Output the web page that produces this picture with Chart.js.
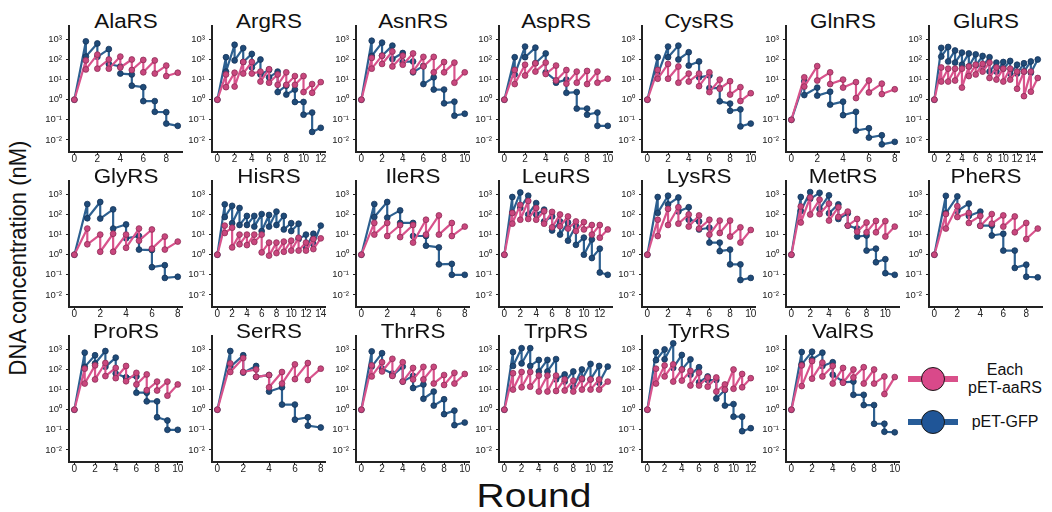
<!DOCTYPE html>
<html>
<head>
<meta charset="utf-8">
<script src="https://cdn.jsdelivr.net/npm/chart.js@4.4.1/dist/chart.umd.min.js"></script>
<style>
  body { margin: 0; background: #fff; width: 1052px; height: 512px; position: relative; overflow: hidden;
         font-family: 'Liberation Sans', Arial, sans-serif; color: #111; }
  .panel { position: absolute; }
  .ttl { position: absolute; width: 114px; text-align: center; font-size: 20px; line-height: 20px; transform: scaleX(1.12); }
  .ylab { position: absolute; left: -132px; top: 247px; width: 300px; text-align: center; font-size: 22px; line-height: 22px;
          transform: rotate(-90deg) scaleY(1.12); }
  .xlab { position: absolute; left: 434px; top: 479px; width: 200px; text-align: center; font-size: 33px; line-height: 33px;
          transform: scaleX(1.18); }
  .lg-bar { position: absolute; left: 908px; width: 50px; height: 6px; }
  .lg-dot { position: absolute; left: 921px; width: 24px; height: 24px; box-sizing: border-box; border: 1.5px solid #1a1a1a; border-radius: 50%; }
  .lg-txt { position: absolute; left: 958px; width: 94px; text-align: center; font-size: 16px; line-height: 18px; }
</style>
</head>
<body>
<div class="ylab">DNA concentration (nM)</div>
<div class="xlab">Round</div>

<div class="lg-bar" style="top:376px;background:#d9508a"></div>
<div class="lg-dot" style="top:367px;background:#d9498a"></div>
<div class="lg-txt" style="top:361px">Each<br>pET-aaRS</div>
<div class="lg-bar" style="top:419px;background:#275c98"></div>
<div class="lg-dot" style="top:410px;background:#1f5597"></div>
<div class="lg-txt" style="top:413px">pET-GFP</div>

<script>
// panels, left to right, top to bottom
const panelNames = ['AlaRS', 'ArgRS', 'AsnRS', 'AspRS', 'CysRS', 'GlnRS', 'GluRS',
                    'GlyRS', 'HisRS', 'IleRS', 'LeuRS', 'LysRS', 'MetRS', 'PheRS',
                    'ProRS', 'SerRS', 'ThrRS', 'TrpRS', 'TyrRS', 'ValRS'];

// concentration at round 0 (nM)
const startConc = [1, 1, 1, 1, 1, 0.1, 1,
                   1, 1, 1, 1, 1, 1, 1,
                   1, 1, 1, 1, 1, 1];

// pET-aaRS: after amplification, rounds 1..N
const aaRSPeak = [
  [90, 175, 100, 140, 100, 95, 90, 50, 22],                          // AlaRS
  [18, 22, 75, 75, 25, 33, 18, 23, 15, 15, 6, 7.5],                  // ArgRS
  [120, 155, 250, 155, 200, 135, 135, 75, 70, 23],                   // AsnRS
  [30, 55, 65, 70, 50, 30, 25, 27, 25, 11],                          // AspRS
  [30, 60, 45, 20, 20, 23, 10, 8.3, 4.2, 2.1],                       // CysRS
  [13, 47, 23, 10, 7.5, 9, 6.3, 3.3],                                // GlnRS
  [40, 35, 35, 35, 45, 55, 60, 70, 40, 35, 35, 25, 25, 25, 12],      // GluRS
  [20, 10, 11, 10, 20, 18, 8, 4.5],                                  // GlyRS
  [28, 22, 10, 10, 10, 10, 4, 4, 4.5, 5, 7, 4, 6, 6.5],              // HisRS
  [38, 38, 30, 30, 55, 90, 38, 25],                                  // IleRS
  [120, 300, 470, 210, 145, 135, 100, 80, 45, 42, 30, 30, 18],       // LeuRS
  [55, 190, 230, 100, 90, 55, 50, 50, 23, 17],                       // LysRS
  [250, 700, 550, 350, 230, 140, 60, 40, 48, 47, 25],                // MetRS
  [105, 260, 120, 85, 105, 90, 80, 38, 20],                          // PheRS
  [110, 160, 210, 120, 150, 68, 57, 25, 25, 18],                     // ProRS
  [200, 370, 100, 53, 75, 180, 210, 110],                            // SerRS
  [160, 230, 340, 230, 120, 135, 135, 53, 68, 60],                   // ThrRS
  [65, 75, 75, 50, 50, 50, 32, 28, 35, 32, 32, 25],                  // TrpRS
  [110, 160, 180, 100, 85, 70, 40, 40, 18, 100, 60, 37],             // TyrRS
  [160, 260, 220, 150, 120, 100, 130, 100, 45, 42]                   // ValRS
];
// pET-aaRS: after dilution, rounds 1..N-1
const aaRSDil = [
  [32, 35, 35, 40, 30, 23, 20, 15],
  [4.2, 4.5, 20, 20, 8, 7, 5.5, 5.5, 5.5, 2.4, 2.2],
  [35, 60, 45, 55, 25, 45, 23, 23, 7],
  [6, 16, 25, 19, 9, 6.3, 7, 6, 7],
  [11, 11, 7, 8, 4.7, 2.4, 3.5, 1.8, 0.86],
  [4.5, 9, 6, 4, 1.2, 2.3, 1.9],
  [8, 8, 9, 4, 15, 18, 25, 12, 10, 8, 10, 3.5, 1.5, 2.5],
  [3.3, 1.4, 1.4, 2.2, 5, 2, 1.8],
  [12, 2.3, 3.3, 3, 4.3, 1.3, 0.9, 1.2, 1.4, 1.6, 1.6, 1.6, 1.9],
  [10, 8.5, 7.5, 4, 10, 10, 8.5],
  [35, 55, 60, 55, 35, 23, 26, 20, 15, 18, 10, 7],
  [8.5, 30, 35, 25, 20, 10, 12, 8, 4],
  [40, 100, 105, 50, 75, 28, 14, 13, 13, 8],
  [20, 75, 38, 27, 35, 25, 13, 6],
  [20, 32, 47, 37, 26, 18, 9.3, 9, 5],
  [75, 75, 43, 13, 20, 33, 30],
  [45, 80, 48, 25, 32, 32, 20, 17, 20],
  [10, 13, 14, 8, 8, 8.5, 9, 8, 10, 10, 10],
  [20, 45, 25, 28, 16, 16, 14, 8, 10, 11, 13],
  [15, 35, 45, 20, 22, 40, 20, 20, 6]
];

// pET-GFP control: after amplification, rounds 1..N
const gfpPeak = [
  [800, 630, 330, 45, 18, 4.2, 0.85, 0.24, 0.05],
  [130, 540, 370, 190, 100, 30, 25, 5, 3.2, 0.77, 0.23, 0.04],
  [860, 690, 490, 210, 80, 48, 13, 3.2, 0.8, 0.2],
  [130, 440, 390, 200, 9, 10, 2.4, 0.36, 0.23, 0.05],
  [130, 440, 490, 230, 80, 16, 3.8, 0.64, 0.33, 0.065],
  [8.3, 4, 2.5, 0.8, 0.25, 0.038, 0.017, 0.008],
  [380, 420, 280, 220, 200, 180, 150, 130, 70, 75, 85, 55, 65, 80, 100],
  [330, 420, 180, 32, 8.5, 1.7, 0.3, 0.08],
  [320, 270, 210, 85, 85, 105, 95, 140, 85, 37, 35, 10, 11, 28],
  [330, 420, 160, 38, 8.5, 2.3, 0.35, 0.1],
  [740, 1250, 860, 370, 175, 80, 45, 40, 27, 7.1, 5.7, 2, 0.1],
  [740, 860, 700, 230, 45, 22, 4, 1.8, 0.33, 0.07],
  [740, 1300, 1200, 900, 320, 115, 20, 9, 2, 0.6, 0.1],
  [850, 800, 350, 140, 28, 11, 1.6, 0.32, 0.075],
  [690, 510, 830, 390, 40, 45, 7, 2.6, 0.29, 0.1],
  [830, 510, 150, 53, 13, 1.8, 0.42, 0.13],
  [800, 650, 63, 140, 48, 18, 8, 3.3, 0.9, 0.23],
  [740, 1150, 1150, 300, 300, 330, 57, 80, 100, 190, 150, 140],
  [740, 1000, 2000, 530, 320, 130, 45, 30, 9.5, 1.9, 0.45, 0.12],
  [740, 770, 690, 230, 25, 25, 5.5, 1.7, 0.2, 0.075]
];
// pET-GFP control: after dilution, rounds 1..N-1
const gfpDil = [
  [140, 135, 60, 20, 5, 0.85, 0.25, 0.065],
  [25, 90, 75, 40, 18, 13, 2.4, 1.8, 0.77, 0.18, 0.025],
  [150, 155, 105, 75, 23, 6, 3.2, 0.66, 0.16],
  [18, 130, 65, 23, 7, 2.2, 0.36, 0.18, 0.05],
  [18, 130, 100, 50, 13, 3.8, 0.83, 0.28, 0.047],
  [1.7, 1.6, 0.57, 0.17, 0.029, 0.013, 0.006],
  [140, 80, 70, 55, 45, 50, 45, 25, 25, 35, 20, 20, 25, 22],
  [65, 63, 20, 6.5, 1.8, 0.24, 0.07],
  [75, 37, 30, 30, 25, 15, 25, 30, 18, 15, 6, 2.3, 3.3],
  [75, 70, 38, 8.5, 2.8, 0.33, 0.1],
  [120, 210, 100, 100, 45, 16, 10, 5, 3.1, 1, 0.68, 0.13],
  [120, 320, 140, 55, 18, 4, 1.5, 0.33, 0.055],
  [150, 600, 190, 115, 60, 28, 8, 1.6, 0.42, 0.12],
  [115, 150, 85, 28, 9, 1.6, 0.22, 0.08],
  [135, 200, 135, 63, 40, 7, 2.6, 0.42, 0.1],
  [135, 70, 43, 8, 1.8, 0.32, 0.16],
  [140, 110, 50, 25, 12, 3.5, 1.6, 0.6, 0.17],
  [150, 200, 150, 80, 80, 32, 25, 13, 32, 32, 22],
  [290, 320, 120, 100, 55, 23, 30, 3.6, 1.6, 0.45, 0.085],
  [180, 320, 150, 55, 23, 5.5, 1.7, 0.2, 0.08]
];

const yTickValues = [0.01, 0.1, 1, 10, 100, 1000];
const yTickLabels = ['10\u207B\u00B2', '10\u207B\u00B9', '10\u2070', '10\u00B9', '10\u00B2', '10\u00B3'];

const PINK = { line: '#d8538c', fill: '#c9477e', edge: '#8e2c55' };
const BLUE = { line: '#2d6090', fill: '#1f4b78', edge: '#15345a' };

// zigzag: (r-1, diluted) -> (r, peak) -> (r, diluted)
function series(start, peak, dil) {
  const pts = [{ x: 0, y: start }];
  peak.forEach((v, i) => {
    pts.push({ x: i + 1, y: v });
    if (i < dil.length) pts.push({ x: i + 1, y: dil[i] });
  });
  return pts;
}

function dataset(pts, c) {
  return {
    data: pts,
    borderColor: c.line,
    borderWidth: 2.2,
    borderJoinStyle: 'round',
    borderCapStyle: 'round',
    pointRadius: 2.9,
    pointBackgroundColor: c.fill,
    pointBorderColor: c.edge,
    pointBorderWidth: 0.8,
    tension: 0
  };
}

panelNames.forEach((name, i) => {
  const col = i % 7, row = Math.floor(i / 7);
  const axisX = 69 + 143.3 * col;
  const top = 16 + 155 * row;
  const n = aaRSPeak[i].length;

  const ttl = document.createElement('div');
  ttl.className = 'ttl';
  ttl.style.left = axisX + 'px';
  ttl.style.top = (11 + 155 * row) + 'px';
  ttl.textContent = name;
  document.body.appendChild(ttl);

  const canvas = document.createElement('canvas');
  canvas.className = 'panel';
  canvas.width = 158;
  canvas.height = 156;
  canvas.style.left = (axisX - 40) + 'px';
  canvas.style.top = top + 'px';
  document.body.appendChild(canvas);

  new Chart(canvas.getContext('2d'), {
    type: 'line',
    data: {
      datasets: [
        dataset(series(startConc[i], aaRSPeak[i], aaRSDil[i]), PINK),
        dataset(series(startConc[i], gfpPeak[i], gfpDil[i]), BLUE)
      ]
    },
    options: {
      responsive: false,
      animation: false,
      devicePixelRatio: 1,
      layout: { padding: { top: 6, right: 4, left: 0, bottom: 0 } },
      plugins: { legend: { display: false }, tooltip: { enabled: false } },
      scales: {
        x: {
          type: 'linear',
          min: -0.052 * n,
          max: n * 1.043,
          afterBuildTicks: s => {
            const t = [];
            for (let v = 0; v <= n; v += 2) t.push({ value: v });
            s.ticks = t;
          },
          afterFit: s => { s.height = 20; },
          ticks: {
            autoSkip: false, maxRotation: 0, padding: -2,
            color: '#222', font: { family: 'Liberation Sans', size: 10 }
          },
          grid: { drawOnChartArea: false, tickLength: 3, color: '#222', lineWidth: 1 },
          border: { color: '#222', width: 2 }
        },
        y: {
          type: 'logarithmic',
          min: 0.0025,
          max: 4800,
          afterBuildTicks: s => { s.ticks = yTickValues.map(v => ({ value: v })); },
          afterFit: s => { s.width = 40; },
          ticks: {
            padding: 4,
            color: '#222', font: { family: 'Liberation Sans', size: 9.5 },
            callback: v => yTickLabels[yTickValues.indexOf(v)]
          },
          grid: { drawOnChartArea: false, tickLength: 3, color: '#222', lineWidth: 1 },
          border: { color: '#222', width: 2 }
        }
      }
    }
  });
});
</script>
</body>
</html>
